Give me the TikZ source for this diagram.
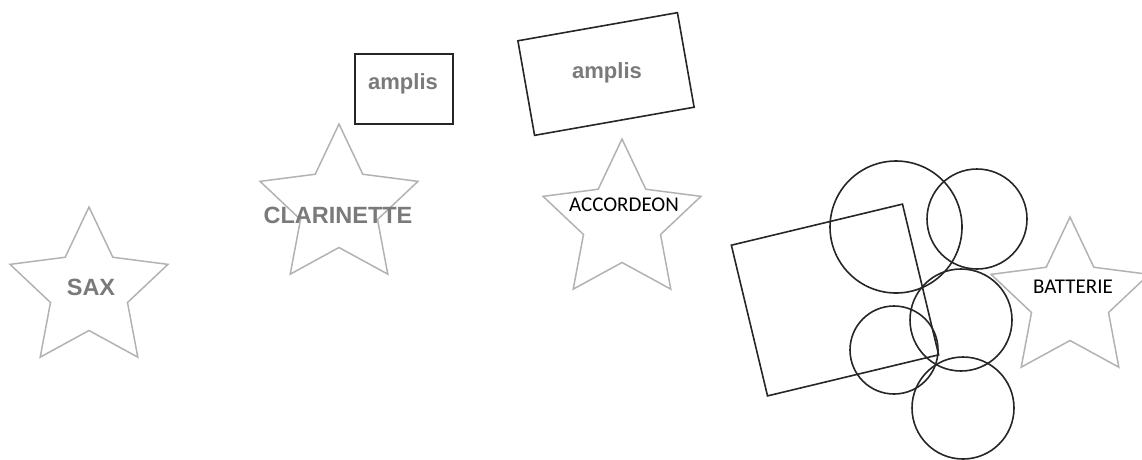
\documentclass[tikz,border=0pt]{standalone}
\usepackage{fontspec}
\setmainfont{Liberation Sans}
\newfontfamily\calfont{Carlito}
\usetikzlibrary{shapes.geometric}

\begin{document}
\begin{tikzpicture}[x=1pt,y=-1pt,
  etoile/.style={star,star points=5,star point ratio=2.05,draw=gray!60,line width=1.5pt,minimum size=166pt,inner sep=0pt},
  boite/.style={draw=black!85,line width=1.6pt,inner sep=0pt},
  rond/.style={circle,draw=black!85,line width=1.6pt,inner sep=0pt},
  gristexte/.style={text=black!52,font=\bfseries\fontsize{23.5}{23.5}\selectfont},
  noirtexte/.style={text=black,font=\calfont\fontsize{21}{21}\selectfont}]
\useasboundingbox (0,0) rectangle (1142,459);
% les instruments
\node[etoile] (sax) at (89,290) {};
\node[etoile] (clarinette) at (339,207) {};
\node[etoile] (accordeon) at (622,222) {};
\node[etoile] (batterie) at (1070,300) {};
\node[gristexte] (saxtxt) at (91,287) {SAX};
\node[gristexte] (clartxt) at (338,215) {CLARINETTE};
\node[noirtexte] (acctxt) at (624,205) {ACCORDEON};
\node[noirtexte] (battxt) at (1073,287) {BATTERIE};
% les amplis
\node[boite,minimum width=98pt,minimum height=70pt] (ampli1) at (404,89) {};
\node[boite,minimum width=162pt,minimum height=96pt,rotate=10] (ampli2) at (606,74) {};
\node[gristexte,font=\bfseries\fontsize{22}{22}\selectfont] (amptxt1) at (403,84) {amplis};
\node[gristexte,font=\bfseries\fontsize{22}{22}\selectfont] (amptxt2) at (607,73) {amplis};
% la batterie
\node[boite,minimum width=176pt,minimum height=155pt,rotate=13.5] (caisse) at (835,300) {};
\foreach \nom/\cx/\cy/\r in {fut1/896/227/66,fut2/977/219/50,fut3/961/320/51,fut4/894/350/44,fut5/963/408/51}
  \node[rond,minimum size={2*\r pt}] (\nom) at (\cx,\cy) {};
\end{tikzpicture}
\end{document}
